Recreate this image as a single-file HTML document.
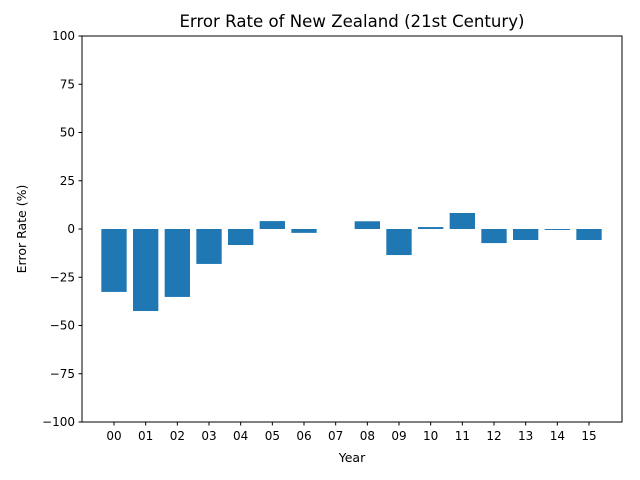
<!DOCTYPE html>
<html><head><meta charset="utf-8"><style>body{margin:0;background:#fff}svg{display:block;font-family:"DejaVu Sans","Liberation Sans",sans-serif}</style></head>
<body>
<svg id="c" width="640" height="480"></svg>
<script>
const categories=["00","01","02","03","04","05","06","07","08","09","10","11","12","13","14","15"];
const values=[-32.6,-42.5,-35.2,-18.1,-8.3,4.1,-2,0,4,-13.5,1,8.3,-7.3,-5.7,-0.5,-5.7];
const yTicks=[-100,-75,-50,-25,0,25,50,75,100];
const NS="http://www.w3.org/2000/svg";
const svg=document.getElementById('c');
const L=82,R=622,T=36,B=422;
function x(i){return 114+(589-114)/15*i;}
function y(v){return T+(100-v)/200*(B-T);}
function mk(t,a,p){const e=document.createElementNS(NS,t);for(const k in a)e.setAttribute(k,a[k]);(p||svg).appendChild(e);return e;}
const bw=(589-114)/15*0.8;
const bars=mk('g',{});


values.forEach((v,i)=>{
 const r=mk('rect',{x:x(i)-bw/2,y:Math.min(y(v),y(0)),width:bw,height:Math.abs(y(v)-y(0)),fill:'#1f77b4'},bars);
 
 
});
const fr=mk('rect',{x:L,y:T,width:R-L,height:B-T,fill:'none',stroke:'#000','stroke-width':1});


yTicks.forEach(v=>{
 mk('line',{x1:L-3.5,x2:L,y1:y(v),y2:y(v),stroke:'#000'});
 const t=mk('text',{x:L-7,y:y(v)+4,'text-anchor':'end','font-size':12});t.textContent=v<0?'\u2212'+(-v):v;
 
 
});
categories.forEach((c,i)=>{
 mk('line',{x1:x(i),x2:x(i),y1:B,y2:B+3.5,stroke:'#000'});
 const t=mk('text',{x:x(i),y:B+18,'text-anchor':'middle','font-size':12});t.textContent=c;
 
 
});
let t=mk('text',{x:352,y:27,'text-anchor':'middle','font-size':16.6});t.textContent='Error Rate of New Zealand (21st Century)';


t=mk('text',{x:352,y:462,'text-anchor':'middle','font-size':12.5});t.textContent='Year';


t=mk('text',{x:26,y:229,'text-anchor':'middle','font-size':12.5,transform:'rotate(-90 26 229)'});t.textContent='Error Rate (%)';


</script>
</body></html>
